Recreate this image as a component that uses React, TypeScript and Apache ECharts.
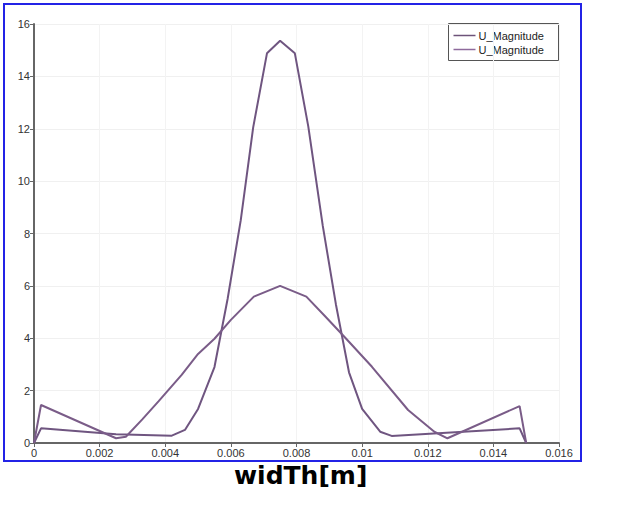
import React, { useEffect, useRef } from "react";
import * as echarts from "echarts";

const seriesNames = ["U_Magnitude", "U_Magnitude"];
const xTicks = [0, 0.002, 0.004, 0.006, 0.008, 0.01, 0.012, 0.014, 0.016];
const yTicks = [0, 2, 4, 6, 8, 10, 12, 14, 16];

// narrow, tall profile
const narrowX = [0, 0.000214, 0.0025, 0.0042, 0.0046, 0.005, 0.0055, 0.0059, 0.0063, 0.00668, 0.0071, 0.0075, 0.00795, 0.00836, 0.0088, 0.0092, 0.0096, 0.01, 0.01055, 0.0109, 0.0148, 0.015];
const narrowY = [0, 0.56, 0.33, 0.28, 0.5, 1.3, 2.9, 5.5, 8.5, 12.05, 14.88, 15.36, 14.88, 12.08, 8.3, 5.3, 2.7, 1.3, 0.43, 0.27, 0.56, 0];

// wide, low profile
const wideX = [0, 0.000214, 0.0025, 0.0028, 0.0033, 0.0038, 0.0045, 0.005, 0.0055, 0.006, 0.0067, 0.0075, 0.0083, 0.0089, 0.0095, 0.0103, 0.0114, 0.0122, 0.0126, 0.0148, 0.015];
const wideY = [0, 1.45, 0.18, 0.24, 0.9, 1.6, 2.6, 3.4, 3.98, 4.7, 5.59, 6.0, 5.59, 4.8, 4.0, 2.91, 1.26, 0.43, 0.18, 1.41, 0];

const axisLabel = "widTh[m]";

export default function App() {
  const ref = useRef<HTMLDivElement>(null);
  useEffect(() => {
    document.body.style.margin = "0";
    const chart = echarts.init(ref.current!, undefined, { renderer: "svg" });
    const font = "Liberation Sans";
    chart.setOption({
      animation: false,
      backgroundColor: "#ffffff",
      grid: { left: 34, right: 68, top: 24, bottom: 62, containLabel: false },
      graphic: [
        {
          type: "rect",
          shape: { x: 4, y: 4, width: 577, height: 457 },
          style: { fill: "none", stroke: "#2323e6", lineWidth: 2 },
          z: 10,
        },
        {
          type: "group",
          left: 448,
          top: 23,
          children: [
            { type: "rect", shape: { x: 0, y: 0, width: 110, height: 37 }, style: { fill: "#fff", stroke: "#555", lineWidth: 1 } },
            { type: "line", shape: { x1: 5, y1: 12, x2: 27, y2: 12 }, style: { stroke: "#6d5379", lineWidth: 1.5 } },
            { type: "text", x: 30, y: 12, style: { text: seriesNames[0], font: `11px '${font}'`, fill: "#222", verticalAlign: "middle" } },
            { type: "line", shape: { x1: 5, y1: 26, x2: 27, y2: 26 }, style: { stroke: "#8e6a9c", lineWidth: 1.5 } },
            { type: "text", x: 30, y: 26, style: { text: seriesNames[1], font: `11px '${font}'`, fill: "#222", verticalAlign: "middle" } },
          ],
          z: 20,
        },
        {
          type: "text",
          left: 234,
          top: 463,
          style: { text: axisLabel, font: `bold 25px 'DejaVu Sans'`, fill: "#000" },
        },
      ],
      xAxis: {
        type: "value",
        min: xTicks[0],
        max: xTicks[xTicks.length - 1],
        interval: 0.002,
        axisLine: { show: true, lineStyle: { color: "#666", width: 2 } },
        axisTick: { show: true, length: 4, lineStyle: { color: "#666" } },
        axisLabel: {
          color: "#333",
          fontFamily: font,
          fontSize: 11,
          margin: 4,
          formatter: (v: number) => String(parseFloat(v.toFixed(4))),
        },
        splitLine: { show: true, lineStyle: { color: "#f3f3f3", width: 1 } },
      },
      yAxis: {
        type: "value",
        min: yTicks[0],
        max: yTicks[yTicks.length - 1],
        interval: 2,
        axisLine: { show: true, lineStyle: { color: "#666", width: 2 } },
        axisTick: { show: true, length: 4, lineStyle: { color: "#666" } },
        axisLabel: { color: "#333", fontFamily: font, fontSize: 11, margin: 4 },
        splitLine: { show: true, lineStyle: { color: "#f0f0f0", width: 1 } },
      },
      series: [
        {
          name: seriesNames[0],
          type: "line",
          showSymbol: false,
          data: narrowX.map((x, i) => [x, narrowY[i]]),
          lineStyle: { color: "#6f5580", width: 2 },
          itemStyle: { color: "#6f5580" },
        },
        {
          name: seriesNames[1],
          type: "line",
          showSymbol: false,
          data: wideX.map((x, i) => [x, wideY[i]]),
          lineStyle: { color: "#7a5c88", width: 2 },
          itemStyle: { color: "#7a5c88" },
        },
      ],
    });
    return () => chart.dispose();
  }, []);
  return <div ref={ref} style={{ position: "fixed", left: 0, top: 0, width: 627, height: 505 }} />;
}
